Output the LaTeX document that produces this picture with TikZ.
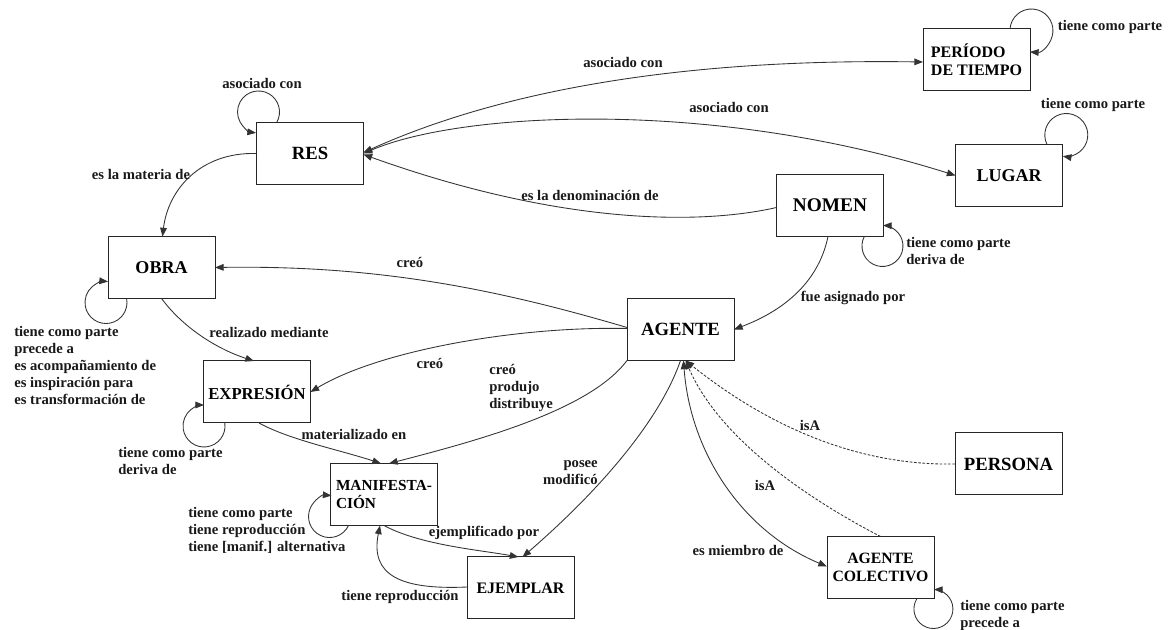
\documentclass[tikz,border=0pt]{standalone}
\usepackage{fontspec}
\setmainfont{Liberation Serif}
\usetikzlibrary{arrows.meta,calc}
\begin{document}
\begin{tikzpicture}[x=0.75pt,y=-0.75pt,
  box/.style={draw=black!85,line width=0.75pt,minimum width=80.25pt,minimum height=46.5pt,inner sep=1pt,outer sep=0pt,fill=white},
  fs/.style={font=\fontsize{#1}{13.5}\selectfont\bfseries},
  lbl/.style={font=\fontsize{11}{12.75}\selectfont\bfseries,inner sep=0pt,text=black!90},
  rel/.style={draw=black!80,line width=0.65pt,-{Triangle[length=6.5pt,width=5pt]}},
  both/.style={rel,{Triangle[length=6.5pt,width=5pt]}-{Triangle[length=6.5pt,width=5pt]}},
  isa/.style={rel,dash pattern=on 2pt off 1.2pt}]
\fill[white] (0,0) rectangle (1168,630);
\useasboundingbox (0,0) rectangle (1168,630);

% nodes
\node[box,fs=14]   (res)       at (310,153.5)  {RES};
\node[box,fs=13.5] (obra)      at (161.5,267.5){OBRA};
\node[box,fs=12,align=left] (periodo) at (976.5,60) {PERÍODO\\DE TIEMPO};
\node[box,fs=13.5] (lugar)     at (1009,175.5) {LUGAR};
\node[box,fs=14.5] (nomen)     at (830,205.5)  {NOMEN};
\node[box,fs=14]   (agente)    at (680.5,329.5){AGENTE};
\node[box,fs=12.5] (expresion) at (257,392)    {EXPRESIÓN};
\node[box,fs=11.5,align=left] (manif) at (384,494.5) {MANIFESTA-\\CIÓN};
\node[box,fs=12]   (ejemplar)  at (520.5,588)  {EJEMPLAR};
\node[box,fs=14]   (persona)   at (1008.5,464) {PERSONA};
\node[box,fs=11.8,align=center] (colectivo) at (880.5,567.5) {AGENTE\\COLECTIVO};

% self loops
\draw[rel] ($(res.north west)+(20.2,0)$) arc[start angle=30,end angle=-263.2,radius=21];
\draw[rel] ($(periodo.north west)+(87,0)$) arc[start angle=184,end angle=454,radius=21.5];
\draw[rel] ($(lugar.north west)+(91.5,0)$) arc[start angle=153.8,end angle=459.4,radius=21.5];
\draw[rel] ($(nomen.south west)+(87.8,0)$) arc[start angle=207.6,end angle=-88.6,radius=20.5];
\draw[rel] ($(obra.south west)+(18.6,0)$) arc[start angle=-11,end angle=275.5,radius=21];
\draw[rel] ($(expresion.south west)+(21.3,0)$) arc[start angle=-8.2,end angle=270,radius=21];
\draw[rel] ($(manif.south west)+(18,0)$) arc[start angle=25.3,end angle=275.5,radius=21];
\draw[rel] ($(colectivo.south west)+(90,0)$) arc[start angle=212.6,end angle=-88.5,radius=19.5];

% connectors
\draw[rel] (res.west) .. controls (200,152) and (168,190) .. ($(obra.north)+(1,0)$);
\draw[both] ($(res.east)+(0,-1)$) .. controls (480,100) and (650,58) .. ($(periodo.west)+(0,2)$);
\draw[both] (res.east) .. controls (460,112) and (710,98) .. (lugar.west);
\draw[rel] ($(nomen.west)+(0,2)$) .. controls (700,225) and (560,225) .. ($(res.east)+(0,1)$);
\draw[rel] ($(nomen.south)+(-2,0)$) .. controls (818,285) and (780,312) .. (agente.east);
\draw[rel] (obra.south) .. controls (185,330) and (220,350) .. ($(expresion.north)+(-3,0)$);
\draw[rel] ($(agente.west)+(0,-2)$) .. controls (500,290) and (380,265) .. (obra.east);
\draw[rel] ($(agente.west)+(0,-1)$) .. controls (520,326) and (380,350) .. (expresion.east);
\draw[rel] (agente.south west) .. controls (590,410) and (480,440) .. ($(manif.north)+(5,0)$);
\draw[rel] ($(expresion.south)+(2,0)$) .. controls (290,440) and (340,450) .. ($(manif.north)+(-3,0)$);
\draw[rel] (manif.south) .. controls (420,545) and (480,550) .. ($(ejemplar.north)+(-2,0)$);
\draw[rel] ($(ejemplar.west)+(0,-1)$) .. controls (400,590) and (370,575) .. ($(manif.south)+(-4,0)$);
\draw[rel] (agente.south) .. controls (660,420) and (600,490) .. ($(ejemplar.north)+(2,0)$);
\draw[both] ($(agente.south)+(3,0)$) .. controls (690,450) and (740,530) .. ($(colectivo.west)+(0,-1)$);
\draw[isa] (persona.west) .. controls (850,466) and (760,420) .. ($(agente.south)+(5,0)$);
\draw[isa] (colectivo.north) .. controls (810,500) and (720,440) .. ($(agente.south)+(5,0)$);

% labels
\node[lbl] (l1) at (262,83) {asociado con};
\node[lbl] (l2) at (141,174) {es la materia de};
\node[lbl] (l3) at (1110,27) {tiene como parte};
\node[lbl] (l4) at (623,62) {asociado con};
\node[lbl] (l5) at (1093,105) {tiene como parte};
\node[lbl] (l6) at (729,107) {asociado con};
\node[lbl] (l7) at (590,195) {es la denominación de};
\node[lbl,align=left,anchor=west] (l8) at (906,251) {tiene como parte\\deriva de};
\node[lbl] (l9) at (853,298) {fue asignado por};
\node[lbl,align=left,anchor=west] (l10) at (14,365.5) {tiene como parte\\precede a\\es acompañamiento de\\es inspiración para\\es transformación de};
\node[lbl] (l11) at (269,332) {realizado mediante};
\node[lbl] (l12) at (410,262) {creó};
\node[lbl] (l13) at (430,363) {creó};
\node[lbl,align=left,anchor=west] (l14) at (489,388) {creó\\produjo\\distribuye};
\node[lbl,align=left,anchor=west] (l15) at (118,461) {tiene como parte\\deriva de};
\node[lbl] (l16) at (354,434) {materializado en};
\node[lbl,align=left,anchor=west] (l17) at (188,530) {tiene como parte\\tiene reproducción\\tiene [manif.] alternativa};
\node[lbl] (l18) at (484,533) {ejemplificado por};
\node[lbl] (l19) at (400,597) {tiene reproducción};
\node[lbl,align=right,anchor=east] (l20) at (598,472.5) {posee\\modificó};
\node[lbl] (l21) at (738,550) {es miembro de};
\node[lbl] (l22) at (810,425) {isA};
\node[lbl] (l23) at (765,485) {isA};
\node[lbl,align=left,anchor=west] (l24) at (960,615.5) {tiene como parte\\precede a};
\end{tikzpicture}
\end{document}
